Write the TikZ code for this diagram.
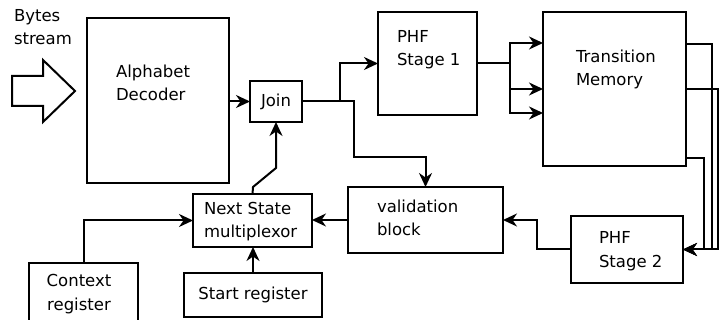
\documentclass[tikz,border=0pt]{standalone}
\usepackage{fontspec}
\setmainfont{DejaVu Sans}
\usetikzlibrary{arrows.meta,calc}

\begin{document}
\begin{tikzpicture}[x=1pt,y=-1pt,
  line width=2pt,
  every node/.style={font=\fontsize{16.5}{23.5}\selectfont},
  blk/.style={draw,rectangle,inner sep=0pt,outer sep=0pt},
  lbl/.style={anchor=base west,align=left,inner sep=0pt},
  arr/.style={-{Stealth[length=14pt,width=13pt,inset=4.5pt]}}]
\useasboundingbox (0,0) rectangle (725,320);

% blocks
\node[blk,minimum width=142pt,minimum height=165pt] (ad)    at (158,100.5) {};
\node[blk,minimum width=52pt, minimum height=41pt]  (join)  at (276,101.5) {Join};
\node[blk,minimum width=99pt, minimum height=103pt] (phf1)  at (427.5,63.5) {};
\node[blk,minimum width=143pt,minimum height=154pt] (tm)    at (614.5,89) {};
\node[blk,minimum width=112pt,minimum height=67pt]  (phf2)  at (627,249.5) {};
\node[blk,minimum width=155pt,minimum height=66pt]  (val)   at (425.5,220) {};
\node[blk,minimum width=119pt,minimum height=53pt]  (ns)    at (252.5,220.5) {};
\node[blk,minimum width=109pt,minimum height=67pt]  (ctx)   at (83.5,296.5) {};
\node[blk,minimum width=138pt,minimum height=44pt]  (start) at (253,295) {Start register};

% labels (anchored at the baseline of their last line)
\node[lbl] (tbytes) at (13,45)   {Bytes\\stream};
\node[lbl] (tad)    at (115,101) {Alphabet\\Decoder};
\node[lbl] (tphf1)  at (396,66)  {PHF\\Stage 1};
\node[lbl] (ttm)    at (575,86)  {Transition\\Memory};
\node[lbl] (tval)   at (376,236) {validation\\block};
\node[lbl] (tns)    at (203,238) {Next State\\multiplexor};
\node[lbl] (tphf2)  at (598,267) {PHF\\Stage 2};
\node[anchor=base,align=center,inner sep=0pt] (tctx) at (79,310) {Context\\register};

% input arrow
\draw (12,76) -- (43,76) -- (43,60) -- (75,91) -- (43,122) -- (43,106) -- (12,106) -- cycle;

% decoder to join
\draw[arr] (ad.east |- join.west) -- (join.west);

% join to PHF stage 1 and to validation
\draw[arr] (join.east) -- ++(38,0) |- (phf1.west);
\draw[arr] (join.east) -- ++(52,0) -- ++(0,55.5) -| (val.north);

% PHF stage 1 fan-out into transition memory
\coordinate (sp) at ($(phf1.east)+(33,0)$);
\draw (phf1.east) -- (sp);
\draw[arr] (sp) |- ($(tm.west)+(0,-46)$);
\draw[arr] (sp) |- (tm.west);
\draw[arr] (sp) |- ($(tm.west)+(0,24)$);

% transition memory outputs to PHF stage 2
\draw[arr] ($(tm.east)+(0,-45)$) -| ($(phf2.east)+(29,0)$) -- (phf2.east);
\draw[arr] (tm.east) -| ($(phf2.east)+(35,0)$) -- (phf2.east);
\draw[arr] ($(tm.east)+(0,69)$) -| ($(phf2.east)+(21,0)$) -- (phf2.east);

% PHF stage 2 to validation
\draw[arr] (phf2.west) -- ++(-34,0) |- (val.east);

% validation to next state
\draw[arr] (val.west) -- (ns.east |- val.west);

% next state back to join
\draw[arr] (ns.north) -- ++(0.5,-7) -- ($(join.south)+(0,46)$) -- (join.south);

% registers into next state
\draw[arr] (ctx.north) |- (ns.west);
\draw[arr] (start.north) -- (start.north |- ns.south);
\end{tikzpicture}
\end{document}
